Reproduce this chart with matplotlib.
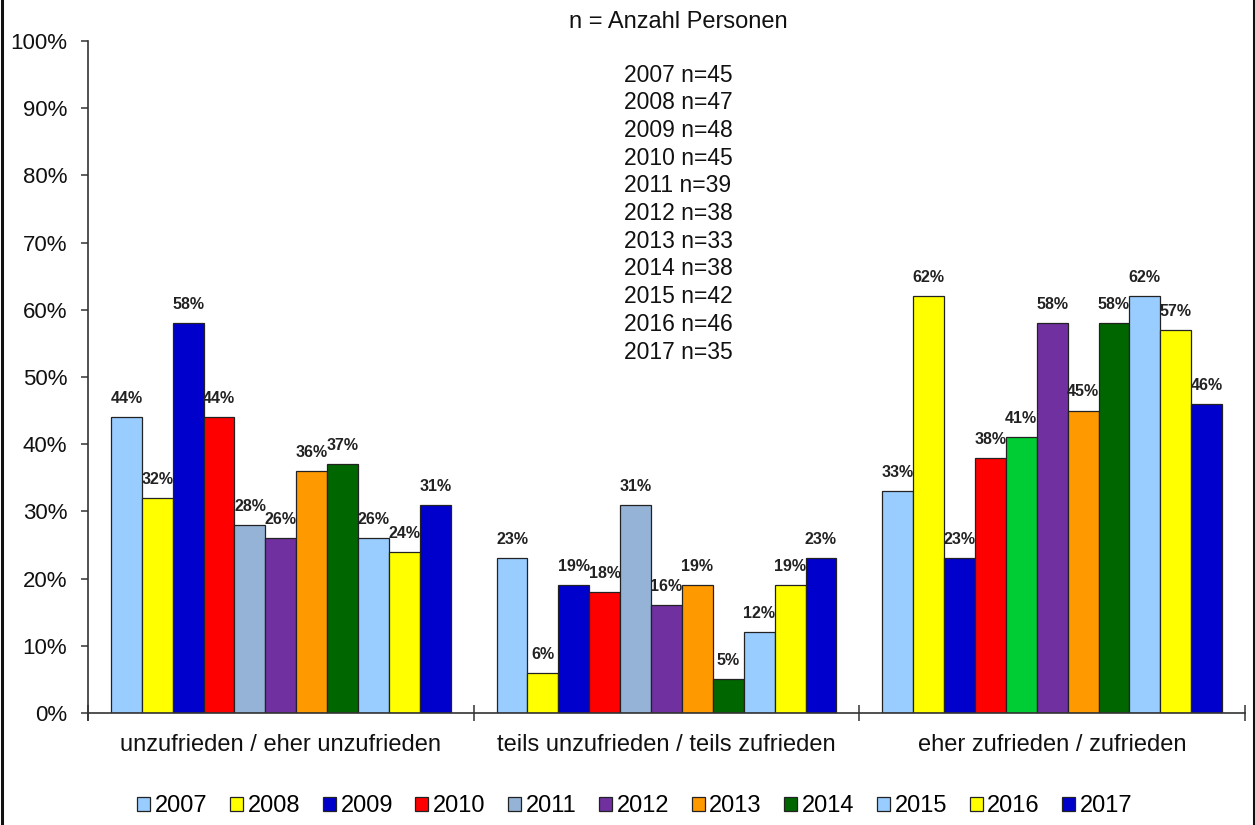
import matplotlib
matplotlib.use("Agg")
import matplotlib.pyplot as plt
import numpy as np
from matplotlib.lines import Line2D

plt.rcParams['font.family'] = ['Liberation Sans', 'DejaVu Sans']

categories = ["unzufrieden / eher unzufrieden",
              "teils unzufrieden / teils zufrieden",
              "eher zufrieden / zufrieden"]
years = ["2007", "2008", "2009", "2010", "2011", "2012",
         "2013", "2014", "2015", "2016", "2017"]
values = {
    "2007": [44, 23, 33],
    "2008": [32, 6, 62],
    "2009": [58, 19, 23],
    "2010": [44, 18, 38],
    "2011": [28, 31, 41],
    "2012": [26, 16, 58],
    "2013": [36, 19, 45],
    "2014": [37, 5, 58],
    "2015": [26, 12, 62],
    "2016": [24, 19, 57],
    "2017": [31, 23, 46],
}
sample_sizes = [45, 47, 48, 45, 39, 38, 33, 38, 42, 46, 35]
ytick_labels = ["0%", "10%", "20%", "30%", "40%", "50%",
                "60%", "70%", "80%", "90%", "100%"]

colors = {
    "2007": "#99CCFF", "2008": "#FFFF00", "2009": "#0000CC", "2010": "#FF0000",
    "2011": "#95B3D7", "2012": "#7030A0", "2013": "#FF9900", "2014": "#006600",
    "2015": "#99CCFF", "2016": "#FFFF00", "2017": "#0000CC",
}
# single-point colour override seen in the reference (2011, third category)
point_colors = {("2011", 2): "#00CC33"}

W, H = 1255, 825
fig = plt.figure(figsize=(W / 100, H / 100), dpi=100)
ax = fig.add_axes([88 / W, (H - 713) / H, (1245 - 88) / W, (713 - 41) / H])

x = np.arange(len(categories))
bw = 0.0801
n = len(years)
for i, yr in enumerate(years):
    offs = (i - (n - 1) / 2) * bw
    cols = [point_colors.get((yr, j), colors[yr]) for j in range(len(categories))]
    bars = ax.bar(x + offs, values[yr], width=bw, color=cols,
                  edgecolor="#222222", linewidth=0.9, label=yr, zorder=2)
    for b, v in zip(bars, values[yr]):
        ax.annotate(f"{v}%", (b.get_x() + b.get_width() / 2, v),
                    xytext=(0, 8), textcoords="offset points",
                    ha="center", va="bottom", fontsize=11.5, fontweight="bold",
                    color="#222222")

ax.set_xlim(-0.5, 2.5)
ax.set_ylim(0, 100)
ax.set_yticks(np.arange(0, 101, 10))
ax.set_yticklabels(ytick_labels)
ax.set_xticks([-0.5, 0.5, 1.5, 2.5])
ax.set_xticklabels([])
ax.set_xticks(x, minor=True)
ax.set_xticklabels(categories, minor=True)
ax.tick_params(axis="x", which="major", direction="inout", length=11,
               width=1.1, color="#333333")
ax.tick_params(axis="x", which="minor", length=0, pad=15, labelsize=17,
               labelcolor="#111111")
ax.tick_params(axis="y", direction="out", length=5, width=1.1, color="#333333",
               pad=10, labelsize=16, labelcolor="#111111")
for s in ["top", "right"]:
    ax.spines[s].set_visible(False)
for s in ["left", "bottom"]:
    ax.spines[s].set_color("#333333")
    ax.spines[s].set_linewidth(1.2)
ax.spines["left"].set_bounds(-1, 100)

# n text block
fig.text(678 / W, 1 - 22 / H, "n = Anzahl Personen", ha="center", va="center",
         fontsize=17, color="#111111")
for k, (yr, nn) in enumerate(zip(years, sample_sizes)):
    fig.text(678 / W, 1 - (75 + k * 27.7) / H, f"{yr} n={nn}", ha="center",
             va="center", fontsize=16.5, color="#111111")

leg = fig.legend(loc="center", bbox_to_anchor=(635 / W, 1 - 806 / H), ncol=11,
                 frameon=False, fontsize=17, handlelength=0.55, handleheight=0.55,
                 handletextpad=0.2, columnspacing=0.95, borderpad=0)
for h in leg.legend_handles:
    h.set_edgecolor("#222222")
    h.set_linewidth(0.9)

# outer frame lines (left and right)
fig.add_artist(Line2D([1.5 / W, 1.5 / W], [0, 1], color="#111111", lw=2.2,
                      transform=fig.transFigure))
fig.add_artist(Line2D([1253.5 / W, 1253.5 / W], [0, 1], color="#111111", lw=2.2,
                      transform=fig.transFigure))

fig.savefig("out.png", dpi=100, facecolor="white")
